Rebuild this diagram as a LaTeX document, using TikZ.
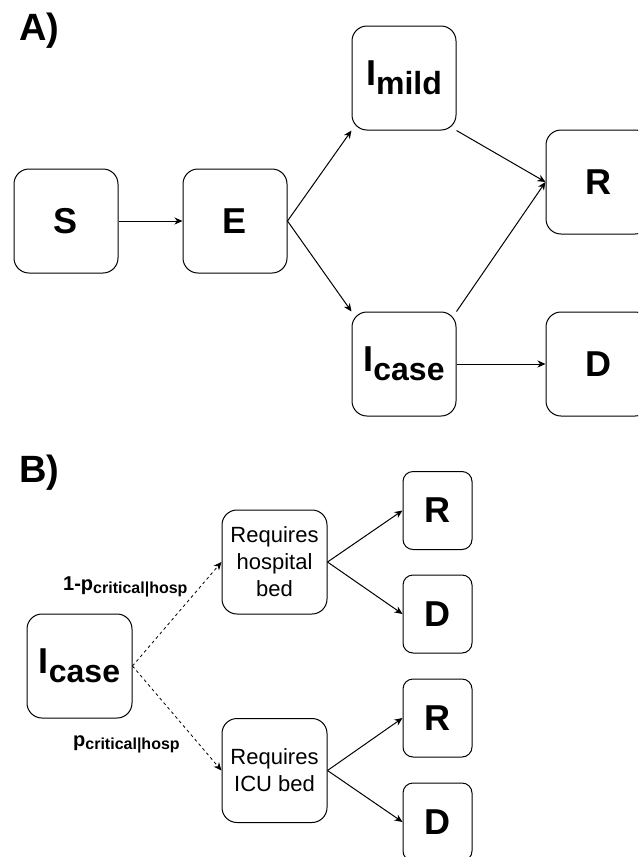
\documentclass[tikz,border=0pt]{standalone}
\usepackage{fontspec}
\setmainfont{Liberation Sans}
\usetikzlibrary{arrows.meta}
\newcommand{\lowsub}[3]{\raisebox{-#1}{\fontsize{#2}{#2}\selectfont #3}}
\begin{document}
\begin{tikzpicture}[x=1pt,y=-1pt,
  box/.style={draw, line width=1pt, rounded corners=15pt, minimum width=104pt, minimum height=104pt, inner sep=0pt, align=center, font=\bfseries\fontsize{36}{40}\selectfont},
  small/.style={draw, line width=1pt, rounded corners=10pt, minimum width=69pt, minimum height=78pt, inner sep=0pt, font=\bfseries\fontsize{36}{40}\selectfont},
  txtbox/.style={draw, line width=1pt, rounded corners=15pt, minimum width=105pt, minimum height=104pt, inner sep=0pt, align=center, font=\fontsize{22}{27}\selectfont},
  conn/.style={line width=1pt, -{Stealth[length=8pt,width=7pt,inset=2.5pt]}},
  dconn/.style={line width=0.8pt, dash pattern=on 3pt off 3pt, -{Stealth[length=8pt,width=7pt,inset=2.5pt]}},
  panel/.style={anchor=base west, inner sep=0pt, font=\bfseries\fontsize{38}{40}\selectfont},
  lab/.style={anchor=base west, inner sep=0pt, font=\bfseries\fontsize{20}{22}\selectfont}
]
\clip (0,0) rectangle (638,857);
\fill[white] (0,0) rectangle (638,857);

% Panel A
\node[panel] (pa) at (19,40) {A)};
\node[box] (S) at (66,221) {S};
\node[box] (E) at (235,221) {E};
\node[box] (Im) at (404,78) {I\lowsub{9pt}{32}{mild}};
\node[box] (Ic) at (404,364) {I\lowsub{9pt}{32}{case}};
\node[box] (R) at (598,182) {R};
\node[box] (D) at (598,364) {D};

\draw[conn] (S.east) -- (E.west);
\draw[conn] (E.east) -- (Im.south west);
\draw[conn] (E.east) -- (Ic.north west);
\draw[conn] (Im.south east) -- (R.west);
\draw[conn] (Ic.north east) -- (R.west);
\draw[conn] (Ic.east) -- (D.west);

% Panel B
\node[panel] (pb) at (19,482) {B)};
\node[box, minimum width=105pt] (Ib) at (79.5,666) {I\lowsub{9pt}{32}{case}};
\node[txtbox] (H) at (274.5,562) {Requires\\hospital\\bed};
\node[txtbox] (U) at (274.5,770.5) {Requires\\ICU bed};
\node[small] (R1) at (437.5,510.5) {R};
\node[small] (D1) at (437.5,614) {D};
\node[small] (R2) at (437.5,718) {R};
\node[small] (D2) at (437.5,822) {D};

\draw[dconn] (Ib.east) -- (H.west);
\draw[dconn] (Ib.east) -- (U.west);
\draw[conn] (H.east) -- (R1.west);
\draw[conn] (H.east) -- (D1.west);
\draw[conn] (U.east) -- (R2.west);
\draw[conn] (U.east) -- (D2.west);

\node[lab] (l1) at (63,590) {1-p\lowsub{3pt}{16}{critical|hosp}};
\node[lab] (l2) at (73,746) {p\lowsub{3pt}{16}{critical|hosp}};
\end{tikzpicture}
\end{document}
